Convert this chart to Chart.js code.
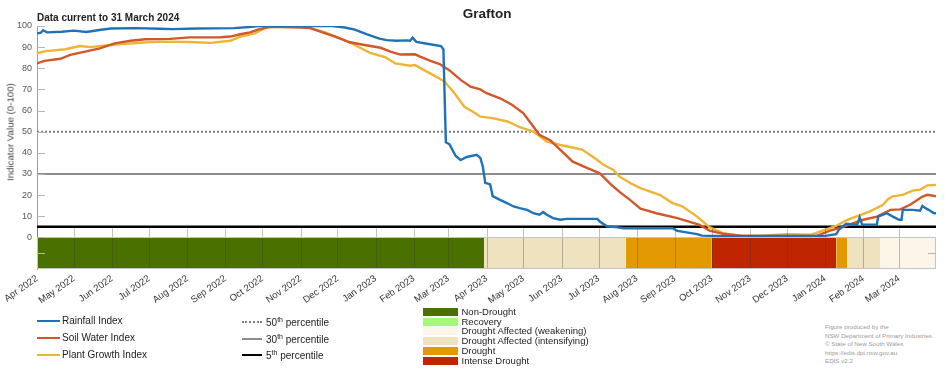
<!DOCTYPE html>
<html>
<head>
<meta charset="utf-8">
<script src="https://cdn.jsdelivr.net/npm/chart.js@4.4.1/dist/chart.umd.min.js"></script>
<style>
  body { margin: 0; width: 952px; height: 370px; position: relative; overflow: hidden; background: #fff;
         font-family: "Liberation Sans", Arial, sans-serif; color: #222; }
  #wrap { position: absolute; left: 0; top: 0; width: 952px; height: 310px; }
  .abs { position: absolute; white-space: nowrap; }
  #title { left: 0; width: 974px; top: 6px; text-align: center; font-weight: bold; font-size: 13.5px; }
  #current { left: 37px; top: 12px; font-weight: bold; font-size: 10px; }
  #ytitle { left: 10px; top: 132px; font-size: 9.7px; color: #444; transform: translate(-50%, -50%) rotate(-90deg); }
  .lg { font-size: 10px; line-height: 12px; }
  .dl { font-size: 9.5px; line-height: 10px; }
  .cr { font-size: 6.2px; line-height: 8px; color: #9a9a9a; }
  sup { font-size: 7px; line-height: 0; vertical-align: 4px; }
</style>
</head>
<body>
<div id="wrap"><canvas id="main-chart"></canvas></div>
<div class="abs" id="title">Grafton</div>
<div class="abs" id="current">Data current to 31 March 2024</div>
<div class="abs" id="ytitle">Indicator Value (0-100)</div>
<div id="legend"></div>
<script>
// x values are days since 1 April 2022
const monthLabels = ["Apr 2022", "May 2022", "Jun 2022", "Jul 2022", "Aug 2022", "Sep 2022", "Oct 2022",
  "Nov 2022", "Dec 2022", "Jan 2023", "Feb 2023", "Mar 2023", "Apr 2023", "May 2023", "Jun 2023",
  "Jul 2023", "Aug 2023", "Sep 2023", "Oct 2023", "Nov 2023", "Dec 2023", "Jan 2024", "Feb 2024", "Mar 2024"];
const monthStarts = [0, 30, 61, 91, 122, 153, 183, 214, 244, 275, 306, 334, 365, 395, 426, 456, 487, 518,
  548, 579, 609, 640, 671, 700];
const lastDay = 730;
const yTicks = [-7.5, 0, 10, 20, 30, 40, 50, 60, 70, 80, 90, 100];

// Rainfall Index
const rainDay = [0, 3, 5, 8, 20, 30, 40, 52, 60, 80, 100, 110, 130, 160, 172, 180, 215, 240, 250, 258,
  268, 278, 284, 292, 300, 303, 305, 308, 318, 328, 330, 332, 335, 340, 344, 349, 357, 360, 362, 364,
  368, 370, 376, 382, 387, 392, 398, 403, 408, 411, 414, 419, 425, 430, 455, 457, 463, 470, 476, 516,
  520, 536, 540, 560, 600, 640, 649, 651, 654, 657, 666, 668, 670, 682, 683, 690, 695, 700, 702, 703,
  711, 717, 719, 721, 724, 728, 730];
const rainValue = [96.5, 96.8, 98, 97, 97.3, 97.8, 97.2, 98.2, 98.8, 99, 98.7, 98.5, 98.8, 99, 99.5, 100, 100, 100, 99.3, 98.3,
  96, 94, 93.3, 93, 93.2, 93, 94.5, 92.5, 91.5, 90.5, 89, 45, 44, 38.5, 36.6, 38, 39, 37.6, 33.5, 25.8,
  25, 19.5, 17.7, 16.1, 14.6, 13.8, 13, 11.4, 10.7, 12, 10.7, 9.1, 8.3, 8.7, 8.7, 7.5, 5.1, 4.8, 4.3, 4.3,
  3, 1.5, 0.8, 0.5, 0.6, 0.7, 1.5, 3.5, 5, 6.4, 5.9, 9.5, 6, 6, 9.8, 11.4, 9.8, 8.3, 8.3, 13,
  13, 12.6, 14.9, 14, 13, 11.5, 11.4];

// Soil Water Index
const soilDay = [0, 6, 19, 27, 39, 51, 63, 76, 88, 108, 124, 149, 157, 165, 173, 180, 189, 214, 222, 230,
  242, 254, 266, 279, 287, 295, 307, 311, 319, 327, 335, 344, 352, 360, 365, 376, 386, 395, 403, 408,
  417, 425, 435, 447, 457, 467, 473, 482, 490, 503, 520, 538, 546, 552, 557, 573, 633, 644, 654, 671,
  682, 693, 701, 709, 719, 723, 730];
const soilValue = [82.3, 83.5, 84.5, 86.3, 87.9, 89.4, 91.8, 93, 93.7, 93.9, 94.6, 94.7, 95, 96.1, 97, 98.4, 99.6, 99.3, 99, 97.3,
  95, 92.3, 91, 89.7, 87.9, 86.5, 86.6, 85.5, 83.6, 82, 79, 74.5, 71.3, 70, 68.2, 65.8, 62.6, 58.7, 52.4, 48.5,
  45.8, 41.4, 35.8, 32.7, 30.3, 24.5, 21.5, 17.5, 13.5, 11.4, 9.1, 5.9, 3.2, 2.3, 1.7, 0.7, 0.7, 3.2, 4.8, 8.3,
  9.8, 13, 13.2, 15.4, 19.3, 20.1, 19.4];

// Plant Growth Index
const plantDay = [0, 6, 23, 35, 43, 56, 67, 84, 100, 124, 141, 157, 165, 177, 185, 193, 214, 222, 234, 246,
  258, 270, 283, 291, 303, 307, 315, 323, 331, 339, 347, 356, 360, 370, 382, 392, 403, 414, 425, 435,
  443, 455, 460, 468, 473, 482, 490, 506, 516, 524, 536, 546, 557, 570, 590, 609, 628, 638, 649, 658,
  676, 687, 691, 695, 703, 711, 717, 723, 730];
const plantValue = [87.1, 88, 89, 90.5, 90, 90.8, 91.3, 92.1, 92.6, 92.4, 92, 93, 95, 96.5, 99, 100, 99.6, 99, 97, 94.2,
  91, 87.4, 85.2, 82.3, 81.2, 81.5, 78.9, 76.4, 73.7, 68.2, 61.8, 58.7, 57.1, 56.4, 54.8, 52.1, 50, 45.3, 43.7, 42.5,
  41.4, 36.6, 34.3, 31.9, 28.7, 25.6, 23.3, 20, 16.2, 14.7, 9.8, 4.8, 2, 0.8, 0.8, 1.5, 1.2, 3.2, 5.4, 8.3,
  12.2, 15.4, 18, 19.4, 20.1, 22.1, 22.5, 24.6, 24.8];

const seriesNames = ["Rainfall Index", "Soil Water Index", "Plant Growth Index"];

const percentileValues = [50, 30, 5];
const percentileNums = ["50", "30", "5"];

// drought status band
const statusNames = ["Non-Drought", "Recovery", "Drought Affected (weakening)",
  "Drought Affected (intensifying)", "Drought", "Intense Drought"];
const statusStart = [0, 363, 478, 548, 649, 658, 685];
const statusEnd = [363, 478, 548, 649, 658, 685, 730];
const statusOf = ["Non-Drought", "Drought Affected (intensifying)", "Drought", "Intense Drought",
  "Drought", "Drought Affected (intensifying)", "Drought Affected (weakening)"];

const credits = ["Figure produced by the", "NSW Department of Primary Industries",
  "\u00A9 State of New South Wales", "https://edis.dpi.nsw.gov.au", "EDIS v2.2"];

// styles
const seriesColours = ["#1f72b8", "#d2582a", "#eeb534"];
const percentileStyles = [
  { color: "#7f7f7f", width: 2, dash: [2, 2] },
  { color: "#8c8c8c", width: 2, dash: [] },
  { color: "#000000", width: 2.5, dash: [] },
];
const statusColours = {
  "Non-Drought": "#4a7000",
  "Recovery": "#a3f877",
  "Drought Affected (weakening)": "#fdf5e8",
  "Drought Affected (intensifying)": "#efe2be",
  "Drought": "#e39a02",
  "Intense Drought": "#bf2600",
};

function pts(days, vals) {
  return days.map((d, i) => ({ x: d, y: vals[i] }));
}

const datasets = [];
[[rainDay, rainValue], [soilDay, soilValue], [plantDay, plantValue]].forEach((s, i) => {
  datasets.push({
    type: "line", label: seriesNames[i], data: pts(s[0], s[1]),
    borderColor: seriesColours[i], borderWidth: 2.4, pointRadius: 0, tension: 0, fill: false,
  });
});
percentileValues.forEach((v, i) => {
  datasets.push({
    type: "line", data: [{ x: 0, y: v }, { x: lastDay, y: v }],
    borderColor: percentileStyles[i].color, borderWidth: percentileStyles[i].width,
    borderDash: percentileStyles[i].dash, pointRadius: 0, fill: false,
  });
});
statusStart.forEach((s, i) => {
  datasets.push({
    type: "line", data: [{ x: s, y: 0 }, { x: statusEnd[i], y: 0 }],
    borderWidth: 0, borderColor: "rgba(0,0,0,0)", pointRadius: 0,
    backgroundColor: statusColours[statusOf[i]], fill: { value: -15 },
  });
});

// month lines across the status band, inner y tick marks, band outline
const extras = {
  id: "extras",
  afterDatasetsDraw(chart) {
    const { ctx, chartArea: a, scales } = chart;
    const x = scales.x, y = scales.y;
    const y0 = y.getPixelForValue(0);
    ctx.save();
    ctx.lineWidth = 1;
    ctx.strokeStyle = "rgba(60,60,60,0.32)";
    ctx.beginPath();
    monthStarts.forEach(d => {
      const px = Math.round(x.getPixelForValue(d)) + 0.5;
      ctx.moveTo(px, y.getPixelForValue(4.3));
      ctx.lineTo(px, a.bottom);
    });
    ctx.stroke();
    ctx.strokeStyle = "#c4c4c4";
    ctx.strokeRect(a.left + 0.5, Math.round(y0) + 0.5, a.right - a.left - 1, a.bottom - Math.round(y0) - 1);
    ctx.strokeStyle = "#b5b5b5";
    ctx.beginPath();
    yTicks.forEach(v => {
      const py = Math.round(y.getPixelForValue(v)) + 0.5;
      ctx.moveTo(a.left, py);
      ctx.lineTo(a.left + 8, py);
    });
    const pr = Math.round(y.getPixelForValue(-7.5)) + 0.5;
    ctx.moveTo(a.right - 8, pr);
    ctx.lineTo(a.right, pr);
    ctx.stroke();
    ctx.restore();
  },
};

const ctx = document.getElementById("main-chart");
const mainChart = new Chart(ctx, {
  data: { datasets: datasets },
  plugins: [extras],
  options: {
    responsive: true,
    maintainAspectRatio: false,
    animation: false,
    layout: { padding: { top: 26, right: 16, left: 0, bottom: 0 } },
    plugins: { legend: { display: false }, tooltip: { enabled: false } },
    scales: {
      x: {
        type: "linear", min: 0, max: lastDay,
        afterBuildTicks: s => { s.ticks = monthStarts.map(v => ({ value: v })); },
        afterFit: s => { s.height = 41; },
        grid: { display: false, drawTicks: false },
        border: { display: false },
        ticks: {
          autoSkip: false, minRotation: 35, maxRotation: 35, padding: 4,
          color: "#333", font: { family: "Liberation Sans", size: 9.5 },
          callback: (v, i) => monthLabels[i],
        },
      },
      y: {
        type: "linear", min: -15, max: 100,
        afterBuildTicks: s => { s.ticks = yTicks.map(v => ({ value: v })); },
        afterFit: s => { s.width = 37; },
        grid: { display: false, drawTicks: false },
        border: { display: true, color: "#a0a0a0", width: 1 },
        ticks: {
          padding: 5, color: "#555", font: { family: "Liberation Sans", size: 9 },
          callback: v => (v < 0 ? "" : v),
        },
      },
    },
  },
});

// legend built from the arrays above
const lg = document.getElementById("legend");
function add(html, cls, left, top, extra) {
  const d = document.createElement("div");
  d.className = "abs " + cls;
  d.style.left = left + "px";
  d.style.top = top + "px";
  if (extra) d.style.cssText += extra;
  d.innerHTML = html;
  lg.appendChild(d);
}
seriesNames.forEach((n, i) => {
  const cy = 321 + 17 * i;
  add("", "", 37, cy - 1.2, "width:23px;height:2.4px;background:" + seriesColours[i]);
  add(n, "lg", 62, cy - 6);
});
percentileNums.forEach((n, i) => {
  const cy = 322 + 16.5 * i;
  const st = percentileStyles[i];
  add("", "", 242, cy - st.width / 2, "width:20px;height:0;border-top:" + st.width + "px " +
    (st.dash.length ? "dotted " : "solid ") + st.color);
  add(n + "<sup>th</sup> percentile", "lg", 266, cy - 5);
});
statusNames.forEach((n, i) => {
  const cy = 311.7 + 9.8 * i;
  add("", "", 423, cy - 4, "width:35px;height:8px;background:" + statusColours[n]);
  add(n, "dl", 461.5, cy - 5);
});
credits.forEach((t, i) => {
  add(t, "cr", 825, 323.3 + 8.4 * i);
});
</script>
</body>
</html>
